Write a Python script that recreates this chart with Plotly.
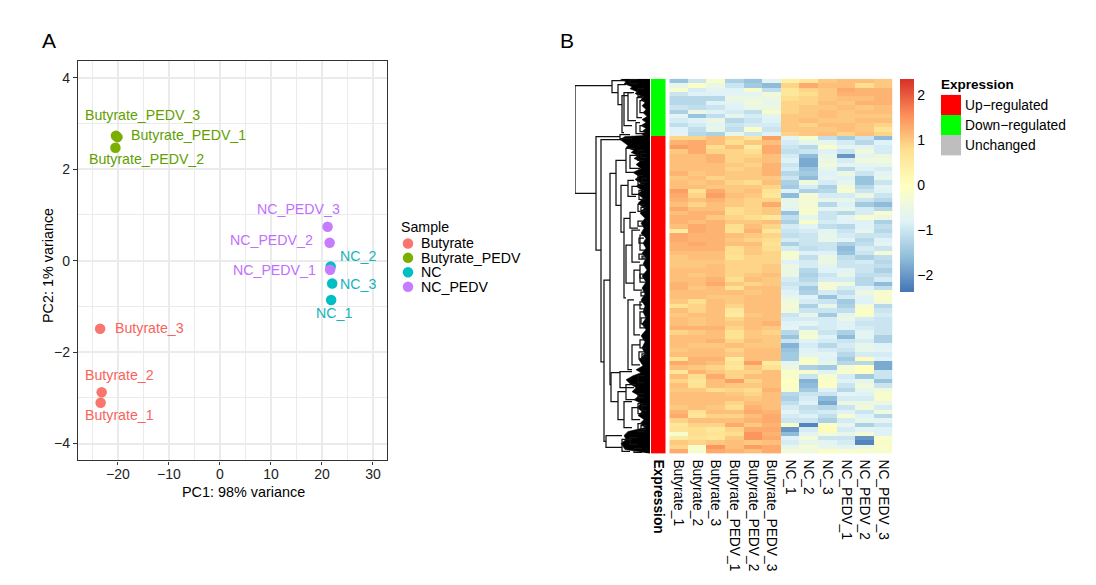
import plotly.graph_objects as go

W, H = 1096, 585

# ---------- PCA data ----------
sample_groups = ["Butyrate", "Butyrate_PEDV", "NC", "NC_PEDV"]
butyrate_names = ["Butyrate_1", "Butyrate_2", "Butyrate_3"]
butyrate_pc1 = [-23.4, -23.2, -23.5]
butyrate_pc2 = [-3.11, -2.88, -1.49]
bpedv_names = ["Butyrate_PEDV_1", "Butyrate_PEDV_2", "Butyrate_PEDV_3"]
bpedv_pc1 = [-20.1, -20.5, -20.4]
bpedv_pc2 = [2.70, 2.47, 2.73]
nc_names = ["NC_1", "NC_2", "NC_3"]
nc_pc1 = [21.8, 21.7, 22.0]
nc_pc2 = [-0.86, -0.13, -0.50]
ncpedv_names = ["NC_PEDV_1", "NC_PEDV_2", "NC_PEDV_3"]
ncpedv_pc1 = [21.6, 21.5, 21.1]
ncpedv_pc2 = [-0.20, 0.39, 0.74]

# ---------- Heatmap data ----------
columns = ["Butyrate_1", "Butyrate_2", "Butyrate_3", "Butyrate_PEDV_1", "Butyrate_PEDV_2", "Butyrate_PEDV_3",
           "NC_1", "NC_2", "NC_3", "NC_PEDV_1", "NC_PEDV_2", "NC_PEDV_3"]
down_rows = [
    [-1.5,-1.0,-0.2,-1.3,-1.5,-0.7,0.4,0.6,1.0,1.1,1.1,1.0],
    [-0.6,-0.1,-0.5,-1.0,-1.4,-1.6,0.9,1.3,1.1,1.1,0.8,1.0],
    [-0.2,-0.9,-0.7,-0.8,-0.2,-1.1,0.6,0.9,1.0,1.3,1.2,1.2],
    [-1.0,-0.8,-0.8,-0.7,-0.7,-0.4,0.6,0.8,1.0,1.2,1.2,1.2],
    [-1.2,-1.2,-1.2,-0.5,-0.5,-0.5,0.8,0.9,1.0,1.1,1.1,1.2],
    [-1.2,-1.2,-0.8,-0.7,-0.4,-0.6,0.9,0.9,1.1,1.0,1.2,1.2],
    [-1.0,-1.1,-1.0,-0.8,-0.5,-0.5,0.9,1.0,1.0,1.1,1.0,1.1],
    [-1.3,-0.5,-0.8,-0.9,-1.1,-0.2,0.9,1.0,1.1,1.0,1.1,1.1],
    [-0.7,-1.5,-1.1,-0.6,-0.9,-0.7,1.0,1.0,1.1,1.0,1.0,1.0],
    [-0.9,-0.8,-0.5,-1.2,-1.0,-0.8,1.0,1.1,1.0,1.0,1.1,1.1],
    [-1.1,-0.9,-0.7,-1.0,-0.9,-0.9,1.0,0.9,1.1,1.1,1.0,0.9],
    [-0.8,-1.1,-0.6,-1.1,-0.2,-1.0,1.0,1.0,1.0,1.1,1.0,0.7],
    [-0.7,-1.2,-1.3,-0.6,-1.0,-0.8,0.9,1.0,1.1,0.9,1.1,0.9],
]
up_rows = [
    [0.9,0.9,1.1,0.9,0.6,1.4,-0.7,-0.2,-1.1,-1.4,-1.0,-1.6],
    [1.2,1.3,1.1,0.8,1.0,1.1,-0.9,-0.6,-0.6,-0.9,-1.2,-0.8],
    [1.4,1.3,0.8,1.1,0.5,1.3,-1.0,-1.2,-0.2,-0.7,-0.7,-0.9],
    [1.0,1.3,0.9,0.9,0.8,1.3,-1.1,-1.0,-0.8,-1.0,-0.4,-0.9],
    [1.1,1.1,1.2,0.9,0.9,1.1,-0.9,-1.6,-0.6,-2.0,-0.7,-0.5],
    [1.1,1.1,1.2,0.9,1.0,1.1,-0.8,-1.8,-0.5,-0.9,-0.4,-0.4],
    [1.1,1.1,1.1,1.0,0.9,1.2,-1.0,-1.8,-0.4,-0.7,-0.7,-0.6],
    [1.1,1.1,1.1,0.9,1.0,1.2,-0.9,-1.5,-0.6,-1.2,-0.8,-0.9],
    [1.2,1.0,1.1,1.0,1.0,1.2,-1.2,-1.4,-0.8,-0.5,-1.0,-0.7],
    [1.0,1.1,0.9,1.0,1.0,1.0,-1.0,-1.6,-0.7,-0.8,-1.5,-0.6],
    [1.1,1.0,1.1,0.9,0.8,1.1,-1.3,-0.4,-0.9,-0.6,-1.5,-1.0],
    [1.1,1.1,1.0,1.0,1.0,0.9,-1.4,-0.9,-1.3,-0.4,-1.2,-0.7],
    [1.4,0.7,1.3,1.0,1.1,0.7,-0.8,-1.3,-1.2,-0.2,-1.0,-0.8],
    [1.3,0.9,1.4,1.1,1.0,0.6,-1.6,-0.3,-0.9,-0.9,-0.5,-1.0],
    [1.2,1.1,1.2,1.0,0.9,0.9,-0.6,-0.3,-0.6,-0.6,-1.0,-1.2],
    [1.1,0.9,1.1,1.0,0.9,1.3,-0.6,-0.3,-1.2,-0.8,-1.4,-1.6],
    [1.3,1.1,1.1,0.8,0.9,1.0,-0.7,-0.2,-0.7,-0.6,-0.9,-1.2],
    [1.1,1.2,1.2,0.8,0.9,1.0,-1.5,-0.2,-1.0,-1.2,-0.9,-0.2],
    [1.2,1.2,1.0,0.9,0.8,0.6,-1.1,-0.6,-1.0,-0.7,-0.2,-0.5],
    [1.2,1.1,1.2,1.0,1.0,1.1,-1.3,-0.2,-0.9,-0.8,-0.8,-1.3],
    [1.1,1.3,1.2,0.8,1.1,0.9,-0.9,-0.7,-1.1,-1.2,-0.8,-1.1],
    [0.5,1.3,1.2,0.7,1.2,0.6,-1.0,-0.9,-0.7,-1.0,-0.6,-1.2],
    [1.3,1.2,1.2,1.1,1.0,0.9,-1.1,-1.0,-0.6,-0.9,-1.0,-1.0],
    [1.3,1.2,1.2,1.0,0.9,0.8,-0.9,-1.0,-0.6,-0.7,-1.2,-0.8],
    [1.2,1.3,1.2,1.1,1.1,0.7,-1.3,-1.0,-1.0,-1.3,-1.1,-0.7],
    [1.2,1.2,1.2,0.8,1.0,0.8,-0.9,-1.1,-1.0,-1.6,-0.9,-1.0],
    [1.1,1.1,1.1,0.8,1.0,0.9,-0.2,-0.8,-0.8,-1.5,-1.0,-0.3],
    [1.0,1.1,1.1,0.7,0.9,0.9,-0.3,-1.1,-0.5,-1.1,-1.3,-1.1],
    [1.0,1.0,1.0,0.9,0.9,0.9,-0.8,-0.9,-0.5,-1.0,-0.9,-1.2],
    [1.0,1.0,1.1,0.9,0.9,1.0,-0.5,-0.9,-0.7,-1.0,-1.0,-1.1],
    [1.1,1.1,1.1,0.9,0.9,1.0,-0.5,-1.2,-0.8,-0.7,-1.0,-1.3],
    [1.1,1.0,1.1,0.9,1.0,1.1,-0.5,-1.3,-1.0,-0.6,-1.1,-1.1],
    [1.1,1.1,1.2,0.8,1.1,1.0,-0.9,-1.2,-0.9,-0.9,-1.2,-0.9],
    [1.2,1.1,1.3,1.0,0.9,1.0,-1.0,-1.0,-0.3,-0.4,-1.2,-1.6],
    [1.2,1.0,1.1,0.7,1.1,1.1,-0.9,-1.4,-0.3,-0.9,-0.8,-1.1],
    [1.1,1.1,1.1,1.1,1.0,1.1,-0.8,-1.3,-0.9,-1.1,-0.5,-0.2],
    [1.1,1.1,1.0,1.0,1.1,1.1,-0.6,-0.8,-1.5,-0.9,-0.7,-0.2],
    [1.0,0.8,1.1,1.0,1.1,1.1,-0.4,-0.9,-1.0,-1.4,-0.8,-0.3],
    [0.7,0.9,1.1,0.9,1.1,1.1,-0.3,-1.3,-0.6,-1.3,-0.3,-1.2],
    [1.1,0.9,1.1,0.6,1.1,1.1,-0.4,-1.0,-1.0,-1.1,-0.1,-1.0],
    [1.0,1.1,1.1,0.5,1.0,1.1,-1.0,-0.6,-1.4,-0.7,-0.1,-0.9],
    [1.1,1.0,1.1,0.9,1.1,1.1,-0.9,-0.9,-0.9,-0.5,-0.9,-1.0],
    [1.1,1.0,1.1,1.0,1.1,1.2,-0.8,-0.7,-0.9,-0.8,-1.0,-1.0],
    [1.2,1.2,1.2,0.9,1.1,1.0,-0.7,-1.0,-0.9,-0.8,-0.9,-1.0],
    [0.9,1.0,1.1,0.7,1.0,0.9,-1.2,-0.4,-1.0,-1.3,-0.7,-1.0],
    [1.1,1.1,1.1,0.7,1.0,1.0,-1.5,-0.2,-0.8,-1.6,-0.7,-1.3],
    [1.1,1.1,1.2,0.9,1.1,1.0,-1.0,-0.8,-0.9,-1.0,-0.9,-1.3],
    [1.1,1.0,1.0,1.1,1.0,1.0,-1.7,-0.9,-1.2,-0.9,-0.6,-0.8],
    [1.0,1.1,1.1,0.9,1.1,1.1,-1.5,-0.8,-0.9,-1.0,-0.6,-0.7],
    [1.1,1.1,1.1,1.0,1.1,1.1,-1.4,-0.7,-0.7,-1.2,-0.9,-0.9],
    [0.7,1.2,1.2,0.5,1.1,1.1,-1.4,-0.2,-0.8,-1.4,0.1,-0.8],
    [1.3,1.2,1.1,0.7,1.4,0.5,-0.7,-0.1,-0.6,-1.2,-1.2,-1.8],
    [1.1,1.0,0.9,0.6,1.0,0.7,-0.5,-1.3,-1.4,-0.3,0.0,-1.8],
    [0.6,1.2,1.0,0.9,0.9,1.1,-0.1,-0.2,-0.8,-0.2,0.0,-1.0],
    [1.1,0.8,1.3,0.9,1.1,1.1,-0.2,-1.0,-0.2,-0.9,-1.4,-1.0],
    [0.9,0.6,1.1,1.4,0.9,1.1,0.0,-1.7,-0.1,-0.8,-0.6,-1.5],
    [1.1,0.7,1.1,1.0,1.0,1.1,-0.1,-1.6,-0.1,-1.0,-0.4,-1.0],
    [1.0,1.0,0.8,0.9,0.8,1.2,-0.1,-1.4,-0.8,-1.2,-0.6,-0.4],
    [1.1,1.1,1.1,1.0,0.9,1.1,-1.2,-1.0,-1.0,-0.7,-0.8,-0.2],
    [1.1,1.1,1.1,1.1,1.0,1.1,-1.3,-0.9,-1.6,-0.9,-0.9,-0.2],
    [1.1,1.1,1.1,0.9,1.1,1.1,-1.1,-0.8,-1.8,-0.5,-0.5,-0.5],
    [1.0,1.1,1.0,0.8,1.2,1.1,-0.9,-1.1,-1.2,-1.0,-0.4,-0.9],
    [1.2,0.7,1.1,1.1,1.3,1.2,-0.7,-1.0,-0.9,-0.8,-1.0,-0.4],
    [1.3,0.6,0.9,0.9,1.1,1.3,-0.9,-0.8,-1.1,-0.2,-0.8,-1.2],
    [0.9,1.1,1.1,1.1,1.2,1.3,-1.0,-1.0,-1.3,-0.9,-0.6,-0.7],
    [0.6,0.9,0.9,1.3,1.0,1.2,-0.2,-2.2,-0.1,-0.6,-1.3,-1.0],
    [0.7,0.8,0.6,0.9,1.3,1.3,-2.0,-0.9,0.1,-0.9,-0.7,-0.8],
    [-0.2,0.8,0.7,0.8,1.5,1.2,-1.6,-0.7,-0.3,-0.6,-0.3,-0.8],
    [0.5,0.7,0.6,1.0,1.5,1.3,-0.8,-0.3,-1.0,-1.0,-2.0,-0.1],
    [1.0,0.9,1.0,1.1,1.0,1.1,-0.9,-0.6,-0.7,-0.9,-2.2,-0.2],
    [0.9,-0.2,1.5,1.1,1.4,1.3,-0.6,-0.3,-0.6,-0.7,-0.5,-0.1],
    [1.3,-0.2,1.3,1.2,1.1,1.3,-0.3,-0.4,-0.1,-0.2,-0.2,-0.2],
]
expression_levels = ["Up\u2212regulated", "Down\u2212regulated", "Unchanged"]
colorbar_ticks = [-2, -1, 0, 1, 2]

# Dendrogram merges: height, first child row, first child height, second child row, second child height
dend_merges = [
    (75,7,38,115,54),(38,2,25,14,32),(32,6,24,26,28),(28,17,22,54,26),(26,14,18,47,18),
    (22,14,16,42,14),(13,19,8,39,8),(10,22,5,34,5),(14,44,10,55,8),(10,47,5,53,5),
    (54,58,30,172,49),(30,56,20,60,18),(49,61,28,284,46),(46,202,40,364,44),(40,95,34,307,39),
    (34,82,24,127,29),(24,70,16,94,16),(20,77,12,90,10),(29,107,22,154,26),(22,102,16,118,14),
    (18,108,10,116,8),(26,140,20,220,24),(20,134,14,150,12),(24,167,18,205,16),(18,152,10,184,10),
    (10,157,5,172,5),(16,192,10,212,8),(10,187,5,200,5),(22,222,16,292,18),(16,227,8,257,10),
    (10,234,5,250,5),(18,267,10,287,10),(30,294,18,310,16),(39,295,30,324,32),(32,314,24,342,26),
    (24,307,14,322,14),(26,324,18,350,18),(18,330,10,342,10),(44,358,28,370,28),(28,362,18,374,20),
    # small clusters near the leaves
    (12,72,6,82,6),(9,75,4,79,4),(12,97,7,106,6),(8,100,3,104,3),(11,112,6,121,5),(12,126,6,133,6),
    (9,129,4,132,4),(12,143,6,148,6),(11,160,6,165,5),(11,176,6,181,5),(8,178,3,180,3),(10,196,5,204,4),
    (9,214,4,218,4),(10,224,5,231,4),(9,240,4,246,4),(10,262,5,270,4),(11,274,5,281,5),(8,276,3,279,3),
    (12,298,6,305,6),(12,316,6,320,6),(12,326,6,336,6),(8,328,3,333,3),(12,346,6,354,5),(9,348,4,352,4),
    (20,360,12,367,12),(16,371,8,375,8),(12,10,6,18,6),(20,1,12,5,12),
]
# Outline of the dense leaf branches
dend_edge_height = [30,24,26,18,20,13,15,7,9,5,8,4,7,3,8,4,9,4,7,5,9,6,25,30,26,22,24,16,19,12,16,10,14,9,17,11,15,9,
                    14,8,12,7,12,6,10,5,9,6,9,4,7,4,8,4,7,3,8,4,8,5,9,5,7,4,8,4,9,5,8,5,11,7,14,9,17,24,20,14,18,
                    11,16,9,13,8,12,6,10,5,22,26,24,29,25,0,0]
dend_edge_row = [0,3,5,8,10,13,15,18,21,24,27,31,34,38,41,44,47,50,52,54,55,57,58,61,64,67,69,72,74,77,80,83,86,90,94,
                 98,101,105,108,112,116,120,125,130,135,140,145,150,155,160,165,170,175,180,186,192,198,204,210,216,
                 222,228,234,240,246,252,258,264,270,276,282,288,292,295,298,302,306,310,314,318,322,326,330,334,
                 338,342,346,350,354,358,362,366,372,376,0]

# ---------- Styling and layout ----------
FONT = "Liberation Sans"
C_BUT, C_BP, C_NC, C_NP = "#F8766D", "#7CAE00", "#00BFC4", "#C77CFF"
T_BUT, T_BP, T_NC, T_NP = "#F8635B", "#5FA000", "#14B4BA", "#BF6FFF"
RDYLBU = [[0, "#4575B4"], [1 / 6, "#91BFDB"], [2 / 6, "#E0F3F8"], [0.5, "#FFFFBF"],
          [4 / 6, "#FEE090"], [5 / 6, "#FC8D59"], [1, "#D73027"]]


def dom_x(a, b):
    return [a / W, b / W]


def dom_y(top, bottom):
    return [1 - bottom / H, 1 - top / H]


fig = go.Figure()

# PCA points
pca_sets = [
    (butyrate_names, butyrate_pc1, butyrate_pc2, C_BUT),
    (bpedv_names, bpedv_pc1, bpedv_pc2, C_BP),
    (nc_names, nc_pc1, nc_pc2, C_NC),
    (ncpedv_names, ncpedv_pc1, ncpedv_pc2, C_NP),
]
for names, xs, ys, col in pca_sets:
    fig.add_trace(go.Scatter(x=xs, y=ys, mode="markers", text=names, showlegend=False,
                             marker=dict(size=10.5, color=col, line=dict(width=0)), xaxis="x", yaxis="y"))

# pixel offsets of the repelled labels from their points
label_style = {
    "Butyrate_1": (19, -12, T_BUT), "Butyrate_2": (18, 17, T_BUT), "Butyrate_3": (49, 1, T_BUT),
    "Butyrate_PEDV_1": (71, 2, T_BP), "Butyrate_PEDV_2": (31, -11, T_BP), "Butyrate_PEDV_3": (27, 21, T_BP),
    "NC_1": (3, -13, T_NC), "NC_2": (27, 11, T_NC), "NC_3": (26, -1, T_NC),
    "NC_PEDV_1": (-56, 0, T_NP), "NC_PEDV_2": (-58, 3, T_NP), "NC_PEDV_3": (-29, 18, T_NP),
}
annotations = []
for names, xs, ys, _ in pca_sets:
    for n, xv, yv in zip(names, xs, ys):
        dx, dy, col = label_style[n]
        annotations.append(dict(x=xv, y=yv, xref="x", yref="y", text=n, showarrow=False, xshift=dx, yshift=dy,
                                font=dict(size=14.2, color=col, family=FONT)))

# Heatmap
all_rows = down_rows + up_rows
row_index = list(range(len(all_rows)))
fig.add_trace(go.Heatmap(z=all_rows, x=columns, y=row_index, colorscale=RDYLBU, zmin=-2.36, zmax=2.36,
                         xaxis="x2", yaxis="y2", hoverongaps=False,
                         colorbar=dict(thickness=14, thicknessmode="pixels", len=213, lenmode="pixels",
                                       x=900 / W, xanchor="left", xpad=0, ypad=0, y=1 - 78 / H, yanchor="top",
                                       outlinewidth=0, tickvals=colorbar_ticks, ticks="",
                                       tickfont=dict(size=14, color="black", family=FONT))))

# Annotation bar
bar_z = [[1]] * len(down_rows) + [[0]] * len(up_rows)
fig.add_trace(go.Heatmap(z=bar_z, x=["<b>Expression</b>"], y=row_index, showscale=False, zmin=0, zmax=1,
                         colorscale=[[0, "#FF0000"], [1, "#00FF00"]], xaxis="x3", yaxis="y3"))

# Dendrogram
fig.add_trace(go.Scatter(x=dend_edge_height, y=dend_edge_row, mode="lines", fill="toself", fillcolor="black",
                         line=dict(color="black", width=0.5), showlegend=False, xaxis="x4", yaxis="y4"))
dx_pts, dy_pts = [], []
for h, r1, h1, r2, h2 in dend_merges:
    dx_pts += [h1, h, h, h2, None]
    dy_pts += [r1, r1, r2, r2, None]
fig.add_trace(go.Scatter(x=dx_pts, y=dy_pts, mode="lines", line=dict(color="#111111", width=1.25),
                         showlegend=False, xaxis="x4", yaxis="y4"))

# Sample legend
fig.add_trace(go.Scatter(x=[0] * 4, y=sample_groups, mode="markers", showlegend=False,
                         marker=dict(size=10.5, color=[C_BUT, C_BP, C_NC, C_NP]), xaxis="x5", yaxis="y5"))

# Expression legend
fig.add_trace(go.Heatmap(z=[[0], [1], [2]], y=expression_levels, x=[0], showscale=False, zmin=0, zmax=2,
                         colorscale=[[0, "#FF0000"], [0.5, "#00FF00"], [1, "#BEBEBE"]], xaxis="x6", yaxis="y6"))


def paper_text(px, py, text, size, **kw):
    return dict(x=px / W, y=1 - py / H, xref="paper", yref="paper", text=text, showarrow=False,
                yanchor="middle", font=dict(size=size, color="black", family=FONT), **kw)


annotations += [
    paper_text(40, 40, "A", 21, xanchor="left"),
    paper_text(558, 40, "B", 21, xanchor="left"),
    paper_text(399, 227, "Sample", 14.2, xanchor="left"),
    paper_text(939, 84, "<b>Expression</b>", 13.5, xanchor="left"),
    paper_text(243, 493, "PC1: 98% variance", 14.4, xanchor="center"),
    paper_text(48, 266, "PC2: 1% variance", 14.4, xanchor="center", textangle=-90),
]

GRID = "#EBEBEB"
tickfont = dict(size=14, color="#222222", family=FONT)
hidden = dict(visible=False, showgrid=False, zeroline=False)
fig.update_layout(
    width=W, height=H, autosize=False, margin=dict(l=0, r=0, t=0, b=0),
    paper_bgcolor="white", plot_bgcolor="white", showlegend=False,
    font=dict(family=FONT, color="black"), annotations=annotations,
    xaxis=dict(domain=dom_x(78, 387), range=[-27.84, 32.75], tick0=0, dtick=10, showgrid=True, gridcolor=GRID,
               gridwidth=2, zeroline=False, showline=True, mirror=True, linecolor="#333333", linewidth=1.4,
               ticks="outside", ticklen=3, tickcolor="#333333", tickfont=tickfont, ticklabelstandoff=-2,
               minor=dict(dtick=5, tick0=0, showgrid=True, gridcolor=GRID, gridwidth=1)),
    yaxis=dict(domain=dom_y(60, 461), range=[-4.37, 4.37], tick0=0, dtick=2, showgrid=True, gridcolor=GRID,
               gridwidth=2, zeroline=False, showline=True, mirror=True, linecolor="#333333", linewidth=1.4,
               ticks="outside", ticklen=4, tickcolor="#333333", tickfont=tickfont,
               minor=dict(dtick=1, tick0=0, showgrid=True, gridcolor=GRID, gridwidth=1)),
    xaxis2=dict(domain=dom_x(669.3, 892.7), tickangle=90, ticks="", showgrid=False, zeroline=False,
                tickfont=dict(size=13.8, color="black", family=FONT), tickmode="array",
                tickvals=columns, ticktext=columns, ticklabelstandoff=-2),
    yaxis2=dict(domain=dom_y(78, 454), autorange="reversed", visible=False, showgrid=False),
    xaxis3=dict(domain=dom_x(651, 665.5), tickangle=90, ticks="", showgrid=False, zeroline=False,
                tickfont=dict(size=13.8, color="black", family=FONT), ticklabelstandoff=-2),
    yaxis3=dict(domain=dom_y(78, 454), autorange="reversed", visible=False, showgrid=False),
    xaxis4=dict(domain=dom_x(575, 650), range=[75, 0], **hidden),
    yaxis4=dict(domain=dom_y(78, 454), range=[376, 0], **hidden),
    xaxis5=dict(domain=dom_x(401, 415), range=[-1, 1], **hidden),
    yaxis5=dict(domain=dom_y(236, 294), anchor="x5", side="right", range=[3.5, -0.5], showgrid=False,
                zeroline=False, ticks="", showline=False, ticklabelstandoff=5, tickmode="array",
                tickvals=sample_groups, ticktext=sample_groups, type="category",
                tickfont=dict(size=14.2, color="black", family=FONT)),
    xaxis6=dict(domain=dom_x(941, 961), **hidden),
    yaxis6=dict(domain=dom_y(94, 155), anchor="x6", side="right", autorange="reversed", showgrid=False,
                zeroline=False, ticks="", showline=False, ticklabelstandoff=3, tickmode="array",
                tickvals=expression_levels, ticktext=expression_levels,
                tickfont=dict(size=13.8, color="black", family=FONT)),
)

fig.write_html("out.html", config=dict(displayModeBar=False), post_script="document.body.style.margin='0';")
